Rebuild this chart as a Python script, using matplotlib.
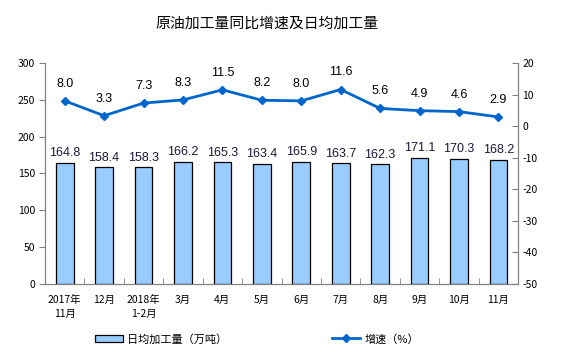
import numpy as np
import matplotlib.pyplot as plt

plt.rcParams['font.family'] = ['Noto Sans CJK SC', 'DejaVu Sans']
plt.rcParams['axes.unicode_minus'] = False

months = ["2017年\n11月", "12月", "2018年\n1-2月", "3月", "4月", "5月",
          "6月", "7月", "8月", "9月", "10月", "11月"]
daily_output = [164.8, 158.4, 158.3, 166.2, 165.3, 163.4, 165.9, 163.7, 162.3, 171.1, 170.3, 168.2]
growth = [8.0, 3.3, 7.3, 8.3, 11.5, 8.2, 8.0, 11.6, 5.6, 4.9, 4.6, 2.9]

bar_color = '#99CCFF'
line_color = '#0066CC'
spine_color = '#808080'

fig = plt.figure(figsize=(5.62, 3.58), dpi=100)
ax = fig.add_axes([0.080, 0.207, 0.842, 0.617])
ax2 = ax.twinx()

x = np.arange(len(months))
bars = ax.bar(x, daily_output, width=0.45, color=bar_color, edgecolor='black', linewidth=0.9,
              label='日均加工量（万吨）', zorder=2)
for xi, v in zip(x, daily_output):
    ax.text(xi, v + 5, '{:.1f}'.format(v), ha='center', va='bottom', fontsize=9,
            family=['Liberation Sans', 'DejaVu Sans'], color='#1a1a3a')

ax2.plot(x, growth, color=line_color, lw=2, marker='D', markersize=4.5, label='增速（%）', zorder=3)
for xi, v in zip(x, growth):
    ax2.text(xi, v + 3.5, '{:.1f}'.format(v), ha='center', va='bottom', fontsize=9,
             family=['Liberation Sans', 'DejaVu Sans'], color='black')

ax.set_xlim(-0.5, len(months) - 0.5)
ax.set_ylim(0, 300)
ax.set_yticks(range(0, 301, 50))
ax2.set_ylim(-50, 20)
ax2.set_yticks(range(-50, 21, 10))

ax.set_xticks(x)
ax.set_xticklabels(months, fontsize=7.5, linespacing=1.5)
ax.tick_params(axis='x', length=0, pad=8)
ax.set_xticks(np.arange(-0.5, len(months), 1), minor=True)
ax.tick_params(axis='x', which='minor', direction='in', length=4, color=spine_color)
ax.tick_params(axis='y', direction='out', length=4, color=spine_color, labelsize=7.5, pad=3)
ax2.tick_params(axis='y', direction='in', length=4, color=spine_color, labelsize=7.5, pad=3)

for a in (ax, ax2):
    a.spines['top'].set_visible(False)
    for s in ('left', 'right', 'bottom'):
        a.spines[s].set_color(spine_color)

fig.text(0.475, 0.933, '原油加工量同比增速及日均加工量', ha='center', va='center', fontsize=10.7)

handles = [bars, ax2.get_lines()[0]]
fig.legend(handles, [h.get_label() for h in handles], loc='center', bbox_to_anchor=(0.457, 0.053),
           ncol=2, frameon=False, fontsize=8, columnspacing=9.4, handlelength=2.5, handletextpad=0.4)

fig.savefig('out.png', dpi=100)
